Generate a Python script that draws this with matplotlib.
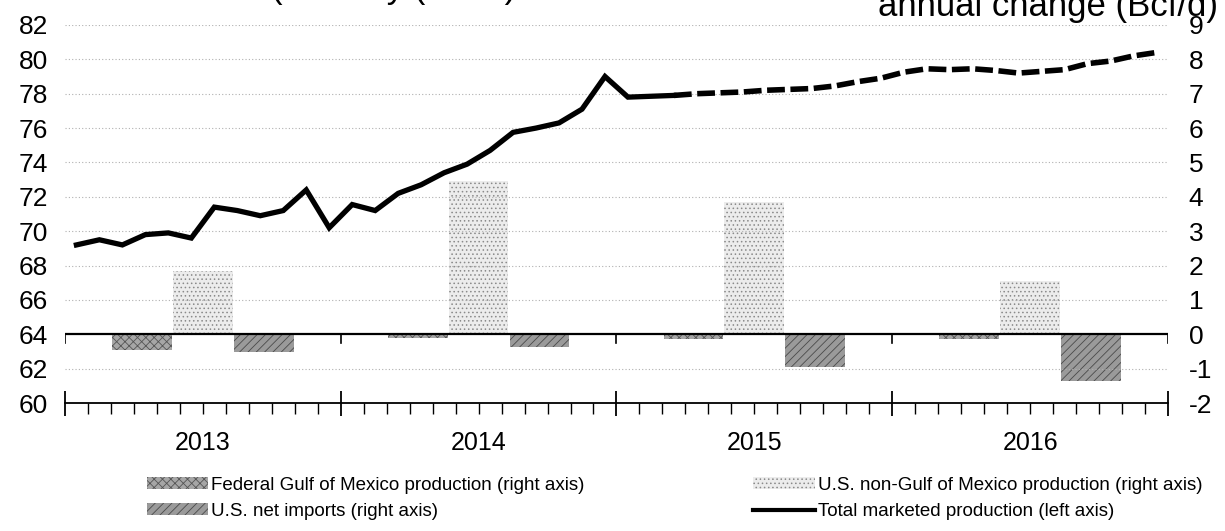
import matplotlib
matplotlib.use("Agg")
import matplotlib.pyplot as plt
from matplotlib.lines import Line2D
from matplotlib.patches import Patch

plt.rcParams['font.family'] = ['Liberation Sans', 'DejaVu Sans']
plt.rcParams['hatch.linewidth'] = 0.6
plt.rcParams['axes.unicode_minus'] = False

# monthly total marketed production, Jan 2013 - Dec 2016 (Bcf/d)
history = [69.2, 69.5, 69.2, 69.8, 69.9, 69.6, 71.4, 71.2, 70.9, 71.2, 72.4, 70.2,
           71.55, 71.2, 72.2, 72.7, 73.4, 73.9, 74.7, 75.75, 76.0, 76.3, 77.1, 79.0,
           77.8, 77.85, 77.9]
forecast = [78.0, 78.05, 78.1, 78.2, 78.25, 78.3, 78.45, 78.7, 78.9,
            79.25, 79.45, 79.4, 79.45, 79.35, 79.2, 79.3, 79.4, 79.75, 79.9, 80.2, 80.4]

years = ['2013', '2014', '2015', '2016']
# annual change (Bcf/d), right axis
gom = [-0.45, -0.12, -0.15, -0.15]
non_gom = [1.85, 4.45, 3.85, 1.55]
imports = [-0.52, -0.38, -0.95, -1.35]

fig = plt.figure(figsize=(12.25, 5.31), dpi=100)
ax = fig.add_axes([0.053, 0.241, 0.9005, 0.712])
ax2 = ax.twinx()

# left axis (line)
ax.set_xlim(0, 48)
ax.set_ylim(60, 82)
ax.set_yticks(range(60, 83, 2))
for v in range(62, 83, 2):
    if v != 64:
        ax.axhline(v, color='#b0b0b0', lw=0.8, ls=(0, (1, 2)), zorder=0)

hx = [m + 0.5 for m in range(len(history))]
fx = [m + 0.5 for m in range(len(history) - 1, len(history) - 1 + len(forecast) + 1)]
ax.plot(hx, history, color='black', lw=3.8, zorder=5, solid_joinstyle='miter')
ax.plot(fx, [history[-1]] + forecast, color='black', lw=4.0, ls=(0, (3.2, 1.0)), zorder=5)

# right axis (bars)
ax2.set_ylim(-2, 9)
ax2.set_yticks(range(-2, 10))
centers = [12 * i + 6 for i in range(4)]
w = 2.6
ax2.bar([c - 2.65 for c in centers], gom, width=w, color='#a6a6a6', edgecolor='#555555',
        hatch='xxxx', linewidth=0, zorder=2)
ax2.bar(centers, non_gom, width=w, color='#ececec', edgecolor='#8a8a8a',
        hatch='....', linewidth=0, zorder=2)
ax2.bar([c + 2.65 for c in centers], imports, width=w, color='#9a9a9a', edgecolor='#4a4a4a',
        hatch='////', linewidth=0, zorder=2)
ax2.axhline(0, color='black', lw=1.6, zorder=3)
for b in range(0, 49, 12):
    ax2.plot([b, b], [0, -0.25], color='black', lw=1.2, zorder=3)

ax2.set_zorder(ax.get_zorder() - 1)
ax.patch.set_visible(False)

for a in (ax, ax2):
    for s in ('top', 'left', 'right'):
        a.spines[s].set_visible(False)
ax2.spines['bottom'].set_visible(False)
ax.spines['bottom'].set_linewidth(1.3)

ax.set_xticks(range(0, 49, 12))
ax.set_xticks(range(0, 49), minor=True)
ax.tick_params(axis='x', which='major', direction='inout', length=18, width=1.3, labelbottom=False)
ax.tick_params(axis='x', which='minor', direction='out', length=8, width=1.0)
ax.tick_params(axis='y', length=0, pad=12, labelsize=19)
ax2.tick_params(axis='y', length=0, pad=15, labelsize=19)

for c, y in zip(centers, years):
    ax.text(c, -0.105, y, transform=ax.get_xaxis_transform(), ha='center', va='center', fontsize=18)

# titles, cut off by the top edge as in the source image
fig.text(0.221, 1.003, '(monthly (Bcf/d)', fontsize=25, ha='left', va='baseline')
fig.text(0.9945, 0.9705, 'annual change (Bcf/d)', fontsize=25, ha='right', va='baseline')

lfont = {'size': 13.5}
h_gom = Patch(facecolor='#a6a6a6', edgecolor='#555555', hatch='xxxx', linewidth=0)
h_imp = Patch(facecolor='#9a9a9a', edgecolor='#4a4a4a', hatch='////', linewidth=0)
h_non = Patch(facecolor='#ececec', edgecolor='#8a8a8a', hatch='....', linewidth=0)
h_tot = Line2D([], [], color='black', lw=3)
leg1 = fig.legend([h_gom, h_imp], ['Federal Gulf of Mexico production (right axis)', 'U.S. net imports (right axis)'],
                  loc='upper left', bbox_to_anchor=(0.112, 0.12), frameon=False, prop=lfont,
                  handlelength=3.3, handleheight=0.6, handletextpad=0.15, labelspacing=0.5, borderpad=0)
leg2 = fig.legend([h_non, h_tot], ['U.S. non-Gulf of Mexico production (right axis)', 'Total marketed production (left axis)'],
                  loc='upper left', bbox_to_anchor=(0.607, 0.12), frameon=False, prop=lfont,
                  handlelength=3.3, handleheight=0.6, handletextpad=0.15, labelspacing=0.5, borderpad=0)

fig.savefig('out.png', dpi=100)
